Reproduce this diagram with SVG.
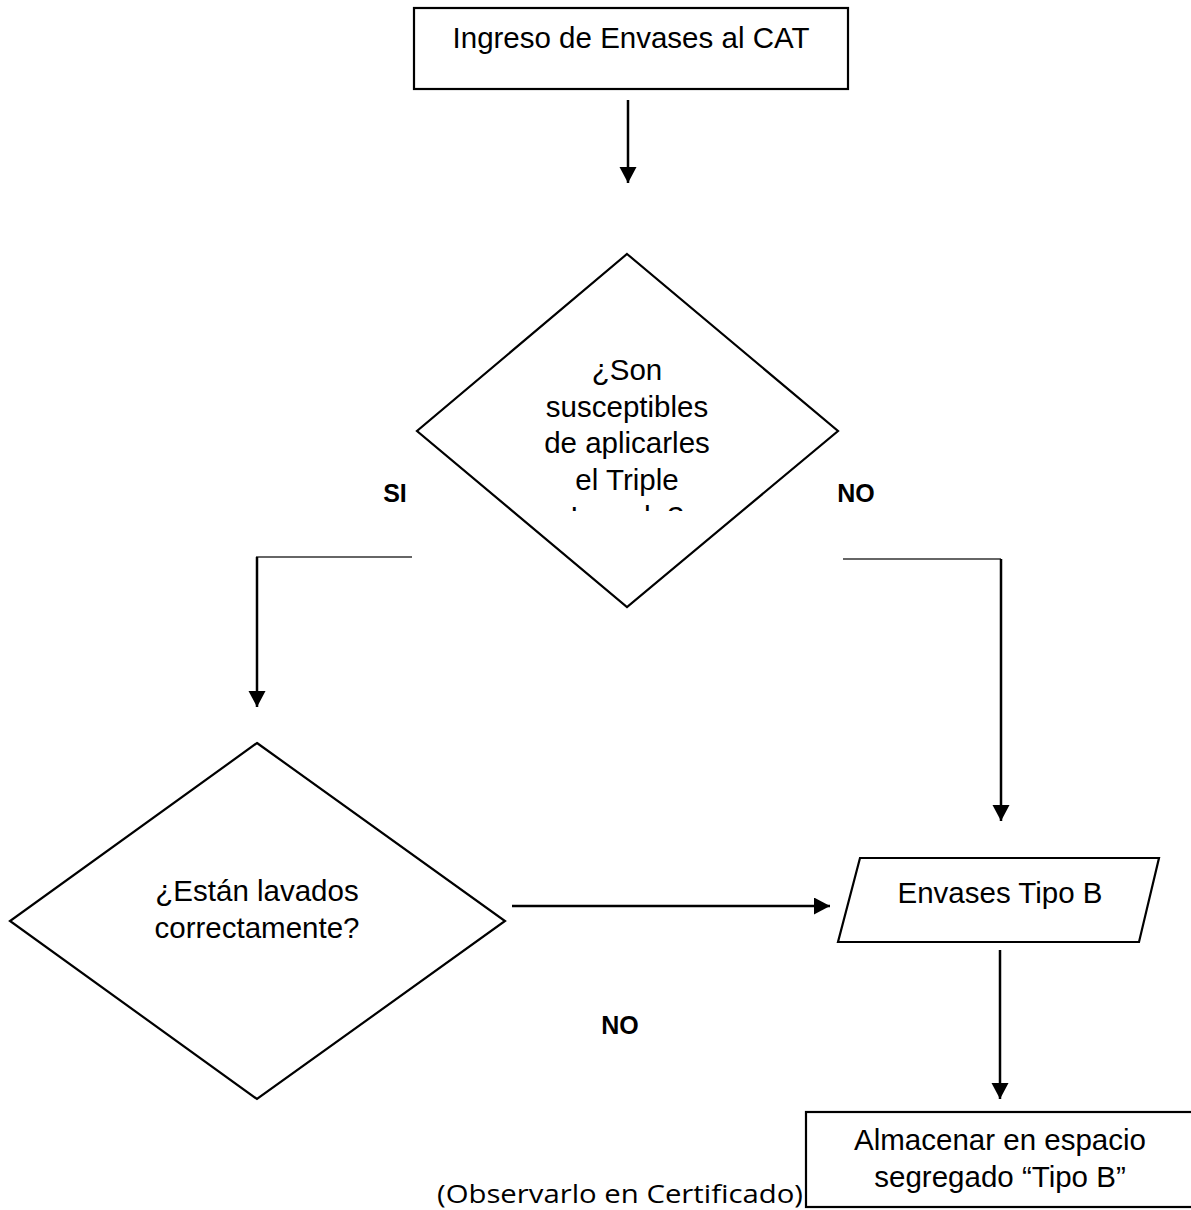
<svg xmlns="http://www.w3.org/2000/svg" width="1191" height="1210" viewBox="0 0 1191 1210">
  <defs>
    <marker id="arrow" markerUnits="userSpaceOnUse" markerWidth="18" markerHeight="18" refX="16" refY="8.5" orient="auto">
      <path d="M0,0 L16,8.5 L0,17 z" fill="#000"/>
    </marker>
    <clipPath id="clipD1">
      <rect x="400" y="250" width="460" height="261"/>
    </clipPath>
    <style>
      .shape { fill: #fff; stroke: #000; stroke-width: 2.2; }
      .lbl { font-family: "Liberation Sans", Arial, sans-serif; font-size: 29.5px; fill: #000; text-anchor: middle; }
      .bold { font-family: "Liberation Sans", Arial, sans-serif; font-size: 25px; font-weight: bold; fill: #000; text-anchor: middle; }
      .note { font-family: "Open Sans", "Liberation Sans", sans-serif; font-size: 26px; fill: #000; }
      .conn { fill: none; stroke: #000; stroke-width: 2.5; }
      .seg { fill: none; stroke: #333; stroke-width: 1.5; }
    </style>
  </defs>
  <rect width="1191" height="1210" fill="#fff"/>

  <g id="connectors">
    <line class="conn" x1="628" y1="100" x2="628" y2="183" marker-end="url(#arrow)"/>
    <line class="seg" x1="256" y1="557" x2="412" y2="557"/>
    <line class="conn" x1="257" y1="557" x2="257" y2="707" marker-end="url(#arrow)"/>
    <line class="seg" x1="843" y1="559" x2="1001" y2="559"/>
    <line class="conn" x1="1001" y1="559" x2="1001" y2="821" marker-end="url(#arrow)"/>
    <line class="conn" x1="512" y1="906" x2="830" y2="906" marker-end="url(#arrow)"/>
    <line class="conn" x1="1000" y1="950" x2="1000" y2="1099" marker-end="url(#arrow)"/>
  </g>

  <g id="node-ingreso">
    <rect class="shape" x="414" y="8" width="434" height="81"/>
    <text class="lbl" x="631" y="48">Ingreso de Envases al CAT</text>
  </g>

  <g id="node-susceptibles">
    <polygon class="shape" points="627,254 838,431 627,607 417,431"/>
    <g clip-path="url(#clipD1)">
      <text class="lbl" x="627" y="380">¿Son</text>
      <text class="lbl" x="627" y="417">susceptibles</text>
      <text class="lbl" x="627" y="453">de aplicarles</text>
      <text class="lbl" x="627" y="490">el Triple</text>
      <text class="lbl" x="627" y="527">Lavado?</text>
    </g>
  </g>

  <g id="label-si">
    <text class="bold" x="395" y="502">SI</text>
  </g>
  <g id="label-no1">
    <text class="bold" x="856" y="502">NO</text>
  </g>

  <g id="node-lavados">
    <polygon class="shape" points="257,743 505,921 257,1099 10,921"/>
    <text class="lbl" x="257" y="901">¿Están lavados</text>
    <text class="lbl" x="257" y="938">correctamente?</text>
  </g>

  <g id="node-tipob">
    <polygon class="shape" points="860,858 1159,858 1139,942 838,942"/>
    <text class="lbl" x="1000" y="903">Envases Tipo B</text>
  </g>

  <g id="label-no2">
    <text class="bold" x="620" y="1034">NO</text>
  </g>

  <g id="node-almacenar">
    <rect class="shape" x="806" y="1112" width="390" height="95"/>
    <text class="lbl" x="1000" y="1150">Almacenar en espacio</text>
    <text class="lbl" x="1000" y="1187">segregado “Tipo B”</text>
  </g>

  <g id="note">
    <text class="note" x="437" y="1203" textLength="366" lengthAdjust="spacingAndGlyphs">(Observarlo en Certificado)</text>
  </g>
</svg>
